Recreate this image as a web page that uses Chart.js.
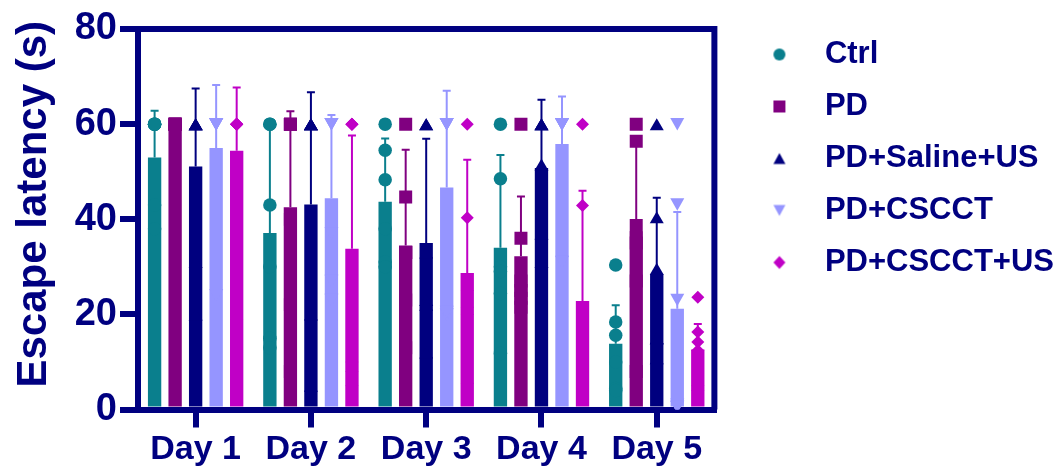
<!DOCTYPE html>
<html>
<head>
<meta charset="utf-8">
<script src="https://cdn.jsdelivr.net/npm/chart.js@4/dist/chart.umd.min.js"></script>
<style>
  html, body { margin: 0; padding: 0; background: #ffffff; }
  canvas { display: block; }
</style>
</head>
<body>
<canvas id="chart" width="1064" height="475" style="width:1064px;height:475px"></canvas>
<script>
// ---- data -------------------------------------------------------------
const days = ['Day 1', 'Day 2', 'Day 3', 'Day 4', 'Day 5'];
const groups = ['Ctrl', 'PD', 'PD+Saline+US', 'PD+CSCCT', 'PD+CSCCT+US'];
const yTicks = [0, 20, 40, 60, 80];

// mean escape latency (s) per day
const ctrlMean    = [53.0, 37.1, 43.7, 34.0, 13.8];
const pdMean      = [60.0, 42.5, 34.5, 32.2, 37.4];
const salineMean  = [51.1, 43.1, 35.0, 50.8, 28.5];
const cscctMean   = [55.0, 44.4, 46.7, 55.8, 21.2];
const cscctUsMean = [54.4, 33.8, 28.7, 22.8, 12.6];

// standard deviation (drawn as upper error bar)
const ctrlSd    = [9.8, 22.9, 13.3, 19.5, 8.1];
const pdSd      = [0.0, 20.2, 20.1, 12.6, 19.0];
const salineSd  = [16.4, 23.6, 21.9, 14.3, 16.0];
const cscctSd   = [13.2, 17.5, 20.3, 10.0, 20.3];
const cscctUsSd = [13.3, 23.8, 23.8, 23.2, 5.4];

// individual animals, one list per day
const ctrlPts = [
  [60, 60, 60, 60, 43, 38], [60, 60, 43, 30, 15, 13], [60, 54.5, 48.3, 31, 30, 38],
  [60, 48.5, 24.4, 11.8, 30, 29], [30.4, 18.4, 15.6, 10, 4.4, 4]
];
const pdPts = [
  [60, 60, 60, 60, 60, 60], [60, 60, 60, 40, 22, 8], [60, 44.7, 33, 23, 13, 33],
  [60, 36, 23.4, 21.5, 25, 27], [60, 56.4, 38.7, 35, 27, 8]
];
const salinePts = [
  [60, 60, 60, 60, 31, 20], [60, 60, 60, 60, 20, 5], [60, 60, 33, 23, 12, 22],
  [60, 60, 60, 51.5, 37, 31], [60, 40.4, 29.6, 10.8, 15, 15]
];
const cscctPts = [
  [60, 60, 60, 60, 60, 24], [60, 60, 60, 37, 27, 23], [60, 60, 60, 60, 20, 20.5],
  [60, 60, 60, 60, 60, 31], [60, 43.1, 23, 1, 0.5, 0.5]
];
const cscctUsPts = [
  [60, 60, 60, 60, 60, 19], [60, 60, 60, 10, 8, 5], [60, 40.3, 21.5, 5.5, 25, 20],
  [60, 42.9, 12, 10, 8, 3.4], [23.6, 16.3, 14.2, 12.4, 5, 4]
];

// ---- styling ----------------------------------------------------------
const NAVY = '#000080';
const FONT = '"Liberation Sans", Arial, Helvetica, sans-serif';
const colors = ['#0a7f8d', '#800080', '#00007f', '#9595ff', '#c000c6'];
const symbols = ['circle', 'square', 'triangle', 'triangleDown', 'diamond'];
// marker sizes [width, height] in the plot and in the legend
const plotSize = { circle: [13.5, 13.5], square: [13, 13], triangle: [14, 12], triangleDown: [14, 12.5], diamond: [13, 13] };
const legendSize = { circle: [12, 12], square: [12, 12], triangle: [12, 11], triangleDown: [12, 11], diamond: [12, 13] };

function traceMarker(ctx, kind, x, y, w, h) {
  ctx.beginPath();
  if (kind === 'circle') {
    ctx.arc(x, y, w / 2, 0, Math.PI * 2);
  } else if (kind === 'square') {
    ctx.rect(x - w / 2, y - h / 2, w, h);
  } else if (kind === 'triangle') {
    ctx.moveTo(x, y - h / 2);
    ctx.lineTo(x + w / 2, y + h / 2);
    ctx.lineTo(x - w / 2, y + h / 2);
  } else if (kind === 'triangleDown') {
    ctx.moveTo(x, y + h / 2);
    ctx.lineTo(x + w / 2, y - h / 2);
    ctx.lineTo(x - w / 2, y - h / 2);
  } else if (kind === 'diamond') {
    ctx.moveTo(x, y - h / 2);
    ctx.lineTo(x + w / 2, y);
    ctx.lineTo(x, y + h / 2);
    ctx.lineTo(x - w / 2, y);
  }
  ctx.closePath();
}

// small canvases used as legend symbols
const legendIcons = symbols.map((kind, i) => {
  const c = document.createElement('canvas');
  c.width = 16; c.height = 16;
  const g = c.getContext('2d');
  g.fillStyle = colors[i];
  const [w, h] = legendSize[kind];
  traceMarker(g, kind, 8, 8, w, h);
  g.fill();
  return c;
});

const means = [ctrlMean, pdMean, salineMean, cscctMean, cscctUsMean];
const sds = [ctrlSd, pdSd, salineSd, cscctSd, cscctUsSd];
const points = [ctrlPts, pdPts, salinePts, cscctPts, cscctUsPts];

// ---- plugins ----------------------------------------------------------
// upper SD whiskers and individual values on top of each bar
const errorAndPoints = {
  id: 'errorAndPoints',
  afterDatasetsDraw(chart) {
    const ctx = chart.ctx;
    const yScale = chart.scales.y;
    const area = chart.chartArea;
    ctx.save();
    ctx.beginPath();
    ctx.rect(area.left, area.top, area.right - area.left, area.bottom - area.top);
    ctx.clip();
    means.forEach((mean, i) => {
      const meta = chart.getDatasetMeta(i);
      ctx.strokeStyle = colors[i];
      ctx.fillStyle = colors[i];
      meta.data.forEach((bar, j) => {
        const sd = sds[i][j];
        if (sd > 0) {
          const yTop = yScale.getPixelForValue(mean[j] + sd);
          ctx.lineWidth = 2;
          ctx.beginPath();
          ctx.moveTo(bar.x, bar.y);
          ctx.lineTo(bar.x, yTop);
          ctx.moveTo(bar.x - 4, yTop);
          ctx.lineTo(bar.x + 4, yTop);
          ctx.stroke();
        }
      });
      meta.data.forEach((bar, j) => {
        const [w, h] = plotSize[symbols[i]];
        points[i][j].forEach(v => {
          traceMarker(ctx, symbols[i], bar.x, yScale.getPixelForValue(v), w, h);
          ctx.fill();
        });
      });
    });
    ctx.restore();
  }
};

// closes the plot frame on the top and right, and writes the y-axis title
const frameAndTitle = {
  id: 'frameAndTitle',
  afterDraw(chart) {
    const ctx = chart.ctx;
    const a = chart.chartArea;
    ctx.save();
    ctx.strokeStyle = NAVY;
    ctx.lineWidth = 6;
    ctx.lineJoin = 'miter';
    ctx.beginPath();
    ctx.moveTo(a.left, a.top);
    ctx.lineTo(a.right, a.top);
    ctx.lineTo(a.right, a.bottom);
    ctx.stroke();

    ctx.fillStyle = NAVY;
    ctx.font = 'bold 42px ' + FONT;
    ctx.translate(a.left - 92, (a.top + a.bottom) / 2 - 15);
    ctx.rotate(-Math.PI / 2);
    ctx.textAlign = 'center';
    ctx.textBaseline = 'alphabetic';
    ctx.fillText('Escape latency (s)', 0, 0);
    ctx.restore();
  }
};

// ---- chart ------------------------------------------------------------
new Chart(document.getElementById('chart'), {
  type: 'bar',
  data: {
    labels: days,
    datasets: groups.map((name, i) => ({
      label: name,
      data: means[i],
      backgroundColor: colors[i],
      borderWidth: 0,
      categoryPercentage: 0.89,
      barPercentage: 0.65
    }))
  },
  options: {
    responsive: false,
    animation: false,
    devicePixelRatio: 1,
    layout: { padding: { top: 18, right: 0, bottom: 0, left: 0 } },
    plugins: {
      tooltip: { enabled: false },
      legend: {
        position: 'right',
        align: 'start',
        fullSize: true,
        maxWidth: 420,
        labels: {
          usePointStyle: true,
          pointStyleWidth: 60,
          padding: 21,
          color: NAVY,
          font: { family: FONT, size: 31, weight: 'bold' },
          generateLabels: chart => chart.data.datasets.map((ds, i) => ({
            text: ds.label,
            datasetIndex: i,
            pointStyle: legendIcons[i],
            fillStyle: colors[i],
            strokeStyle: colors[i],
            lineWidth: 0,
            fontColor: NAVY,
            hidden: false
          }))
        }
      }
    },
    scales: {
      x: {
        z: 1,
        offset: true,
        grid: { display: true, drawOnChartArea: false, drawTicks: true, tickLength: 18, lineWidth: 6, color: NAVY, offset: false },
        border: { display: true, width: 6, color: NAVY },
        ticks: { color: NAVY, padding: 2, maxRotation: 0, font: { family: FONT, size: 34, weight: 'bold' } },
        afterFit(s) { s.height = 65.5; s.paddingLeft = 0; s.paddingRight = 0; }
      },
      y: {
        min: 0,
        max: 80,
        afterBuildTicks(s) { s.ticks = yTicks.map(v => ({ value: v })); },
        grid: { display: true, drawOnChartArea: false, drawTicks: true, tickLength: 18, lineWidth: 6, color: NAVY },
        border: { display: true, width: 6, color: NAVY },
        ticks: { color: NAVY, padding: 3, font: { family: FONT, size: 38, weight: 'bold' } },
        afterFit(s) { s.width = 138; s.paddingTop = 29; s.paddingBottom = 0; }
      },
      gap: {
        type: 'linear',
        position: 'right',
        display: true,
        grid: { display: false },
        border: { display: false },
        ticks: { display: false },
        afterFit(s) { s.width = 14; s.paddingTop = 0; s.paddingBottom = 0; }
      }
    }
  },
  plugins: [errorAndPoints, frameAndTitle]
});
</script>
</body>
</html>
